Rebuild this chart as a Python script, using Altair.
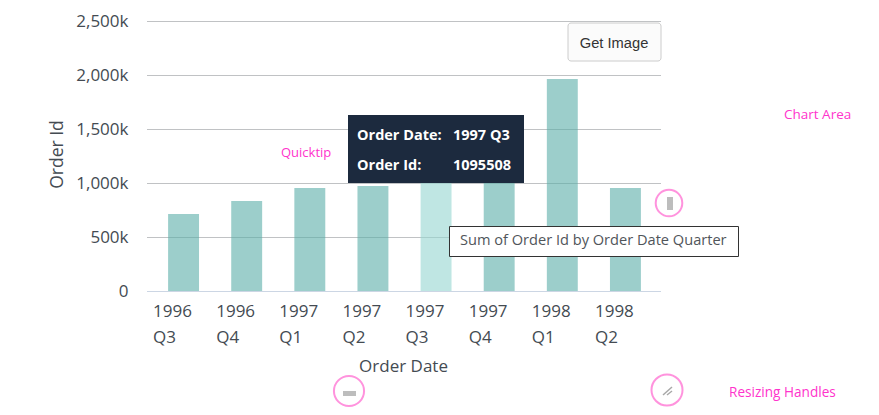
import altair as alt
import pandas as pd

quarters = ["1996 Q3", "1996 Q4", "1997 Q1", "1997 Q2", "1997 Q3", "1997 Q4", "1998 Q1", "1998 Q2"]
order_ids = [713000, 833000, 954000, 972000, 1095508, 1150000, 1963000, 954000]
highlight = [0, 0, 0, 0, 1, 0, 0, 0]
y_ticks = [0, 500000, 1000000, 1500000, 2000000, 2500000]

FONT = "Open Sans"
INK = "#444b52"
PINK = "#ff33cc"
RING = "#ff66d0"
HANDLE = "#bdbdbd"
ONE = pd.DataFrame({"n": [0]})

df = pd.DataFrame({"q": quarters, "v": order_ids, "h": highlight})
grid_df = pd.DataFrame({"v": y_ticks[1:]})


def at(mark, **enc):
    return alt.Chart(ONE, mark=mark).encode(**{k: alt.value(v) for k, v in enc.items()})


def label(text, x, y, **kw):
    base = dict(text=text, font=FONT, align="left", baseline="middle")
    base.update(kw)
    return at(alt.MarkDef(type="text", **base), x=x - 147, y=y - 21)


def box(x0, x1, y0, y1, **kw):
    return at(alt.MarkDef(type="rect", **kw), x=x0 - 147, x2=x1 - 147, y=y0 - 21, y2=y1 - 21)


def ring(x, y, r):
    return at(
        alt.MarkDef(type="point", shape="circle", filled=False, stroke=RING, strokeWidth=2, size=3.1416 * r * r),
        x=x - 147,
        y=y - 21,
    )


def stroke(x0, y0, x1, y1, width=1.5):
    return at(
        alt.MarkDef(type="rule", stroke="#a8a8a8", strokeWidth=width),
        x=x0 - 147, x2=x1 - 147, y=y0 - 21, y2=y1 - 21,
    )


y_scale = alt.Scale(domain=[0, 2500000], nice=False)

x_enc = alt.X(
    "q:N",
    sort=quarters,
    scale=alt.Scale(domain=quarters, range=[5, 510], paddingInner=0.51, paddingOuter=0.255),
    axis=alt.Axis(
        title="Order Date",
        titleFont=FONT, titleFontSize=17, titleFontWeight="normal", titleColor=INK,
        titleX=256, titleY=75, titleAnchor="middle", titleBaseline="middle",
        labelFont=FONT, labelFontSize=17, labelColor=INK,
        labelAlign="left", labelOffset=-30.5, labelAngle=0, labelPadding=12,
        labelBaseline="top", labelLineHeight=26, labelBound=False, labelOverlap=False, labelFlush=False,
        labelExpr="split(datum.value, ' ')",
        ticks=False, domain=False, grid=False,
    ),
)
y_enc = alt.Y(
    "v:Q",
    scale=y_scale,
    axis=alt.Axis(
        title="Order Id",
        titleFont=FONT, titleFontSize=17.5, titleFontWeight="normal", titleColor=INK,
        titleX=-90, titleY=133, titleAnchor="middle", titleBaseline="middle",
        values=y_ticks,
        labelFont=FONT, labelFontSize=17, labelColor=INK, labelPadding=19,
        labelExpr="datum.value == 0 ? '0' : format(datum.value / 1000, ',') + 'k'",
        ticks=False, domain=False, grid=False,
    ),
)

grid = alt.Chart(grid_df).mark_rule(stroke="#c0c2c4", strokeWidth=1, yOffset=0.5).encode(
    y=y_enc,
    x=alt.value(0),
    x2=alt.value(514),
)

bars = alt.Chart(df).mark_bar(opacity=0.6).encode(
    x=x_enc,
    y=y_enc,
    color=alt.Color("h:N", scale=alt.Scale(domain=[0, 1], range=["#5aaea9", "#94d5d0"]), legend=None),
)

baseline = at(alt.MarkDef(type="rule", stroke="#ccd6e4", strokeWidth=1), x=0, x2=514, y=270.5)

layers = [
    grid,
    bars,
    baseline,
    # Get Image button
    box(568, 661, 23, 61, fill="#fbfbfb", stroke="#cccccc", strokeWidth=1, cornerRadius=3),
    label("Get Image", 614, 43.5, align="center", font="Liberation Sans", fontSize=14.7, color="#333333"),
    # Quicktip
    box(348, 524, 115, 183, fill="#1c2a3e"),
    label("Order Date:", 357, 136, fontSize=14.5, fontWeight="bold", color="white"),
    label("1997 Q3", 453, 136, fontSize=14.5, fontWeight="bold", color="white"),
    label("Order Id:", 357, 166, fontSize=14.5, fontWeight="bold", color="white"),
    label("1095508", 453, 166, fontSize=14.5, fontWeight="bold", color="white"),
    # Hover title
    box(449.5, 738.5, 226.5, 256.5, fill="white", stroke="#333333", strokeWidth=1),
    label("Sum of Order Id by Order Date Quarter", 460, 241, fontSize=14.6, color="#50555a"),
    # Annotations
    label("Chart Area", 784, 115, fontSize=13.5, color=PINK),
    label("Quicktip", 281, 153, fontSize=13, color=PINK),
    label("Resizing Handles", 729, 393, fontSize=13.6, color=PINK),
    # Resizing handles
    ring(669, 203, 15),
    box(667, 673, 197, 210, fill=HANDLE),
    ring(349, 391, 17),
    box(343, 356, 391, 396, fill=HANDLE),
    ring(667, 390, 17.5),
    stroke(663, 395, 672, 387),
    stroke(667, 395, 672, 391),
]

chart = alt.layer(*layers).properties(
    width=514,
    height=270,
    padding={"left": 139, "top": 13, "right": 210, "bottom": 118},
    autosize=alt.AutoSizeParams(type="none"),
).configure_view(stroke=None)

chart.save("out.html", embed_options={"renderer": "svg", "actions": False})
